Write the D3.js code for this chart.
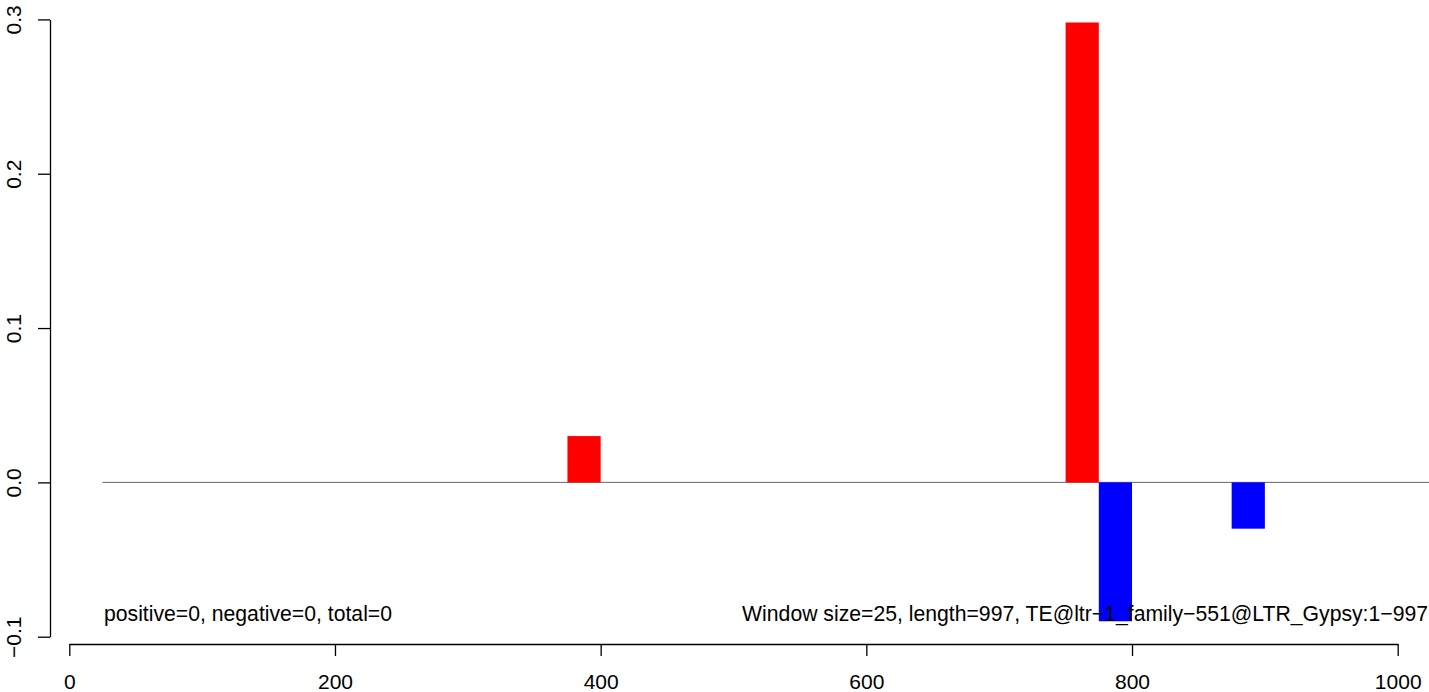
<!DOCTYPE html>
<html>
<head>
<meta charset="utf-8">
<script src="https://cdn.jsdelivr.net/npm/d3@7"></script>
<style>
  html, body { margin: 0; padding: 0; background: #fff; }
  svg { display: block; font-family: "Liberation Sans", Arial, Helvetica, sans-serif; }
</style>
</head>
<body>
<svg id="chart" width="1429" height="692"></svg>
<script>
// ---- data ----
const windowSize = 25;
const posStarts = [375, 750];
const posValues = [0.03, 0.298];
const negStarts = [775, 875];
const negValues = [-0.09, -0.03];
const xTicks = [0, 200, 400, 600, 800, 1000];
const yTicks = [-0.1, 0.0, 0.1, 0.2, 0.3];
const zeroLineFrom = 25;
const leftNote = "positive=0, negative=0, total=0";
const rightNote = "Window size=25, length=997, TE@ltr\u22121_family\u2212551@LTR_Gypsy:1\u2212997";

const svg = d3.select("#chart");
const x = d3.scaleLinear().domain([0, 1000]).range([69.3, 1397.7]);
const y = d3.scaleLinear().domain([-0.1, 0.3]).range([636.7, 19.4]);

// zero line
svg.append("line")
  .attr("x1", x(zeroLineFrom)).attr("x2", 1440)
  .attr("y1", y(0)).attr("y2", y(0))
  .attr("stroke", "#666").attr("stroke-width", 1);

// bars
const pos = posStarts.map((s, i) => ({s, v: posValues[i]}));
const neg = negStarts.map((s, i) => ({s, v: negValues[i]}));
svg.append("g").selectAll("rect").data(pos).join("rect")
  .attr("x", d => x(d.s)).attr("width", d => x(d.s + windowSize) - x(d.s))
  .attr("y", d => y(d.v)).attr("height", d => y(0) - y(d.v))
  .attr("fill", "#ff0000");
svg.append("g").selectAll("rect").data(neg).join("rect")
  .attr("x", d => x(d.s)).attr("width", d => x(d.s + windowSize) - x(d.s))
  .attr("y", y(0)).attr("height", d => y(d.v) - y(0))
  .attr("fill", "#0000ff");

// x axis
const gx = svg.append("g").attr("transform", "translate(0,644)")
  .call(d3.axisBottom(x).tickValues(xTicks).tickFormat(d3.format("d")).tickSize(12).tickSizeOuter(0));
gx.select(".domain").attr("stroke", "#000").attr("stroke-width", 1.3);
gx.selectAll(".tick line").attr("stroke", "#000").attr("stroke-width", 1.3);
gx.selectAll(".tick text").attr("y", 45).attr("dy", 0)
  .attr("font-size", 21).attr("fill", "#000")
  .style("font-family", "'Liberation Sans', Arial, sans-serif");

// y axis
const gy = svg.append("g").attr("transform", "translate(50,0)")
  .call(d3.axisLeft(y).tickValues(yTicks).tickFormat(d3.format(".1f")).tickSize(12).tickSizeOuter(0));
gy.select(".domain").attr("stroke", "#000").attr("stroke-width", 1.3);
gy.selectAll(".tick line").attr("stroke", "#000").attr("stroke-width", 1.3);
gy.selectAll(".tick text")
  .attr("x", 0).attr("dy", 0)
  .attr("text-anchor", "middle")
  .attr("transform", "translate(-29,0) rotate(-90)")
  .attr("font-size", 21).attr("fill", "#000")
  .style("font-family", "'Liberation Sans', Arial, sans-serif");

// notes
svg.append("text").attr("x", 104).attr("y", 621)
  .attr("font-size", 21.2).attr("fill", "#000").text(leftNote);
svg.append("text").attr("x", 1428).attr("y", 621).attr("text-anchor", "end")
  .attr("font-size", 21.2).attr("fill", "#000").text(rightNote);
</script>
</body>
</html>
